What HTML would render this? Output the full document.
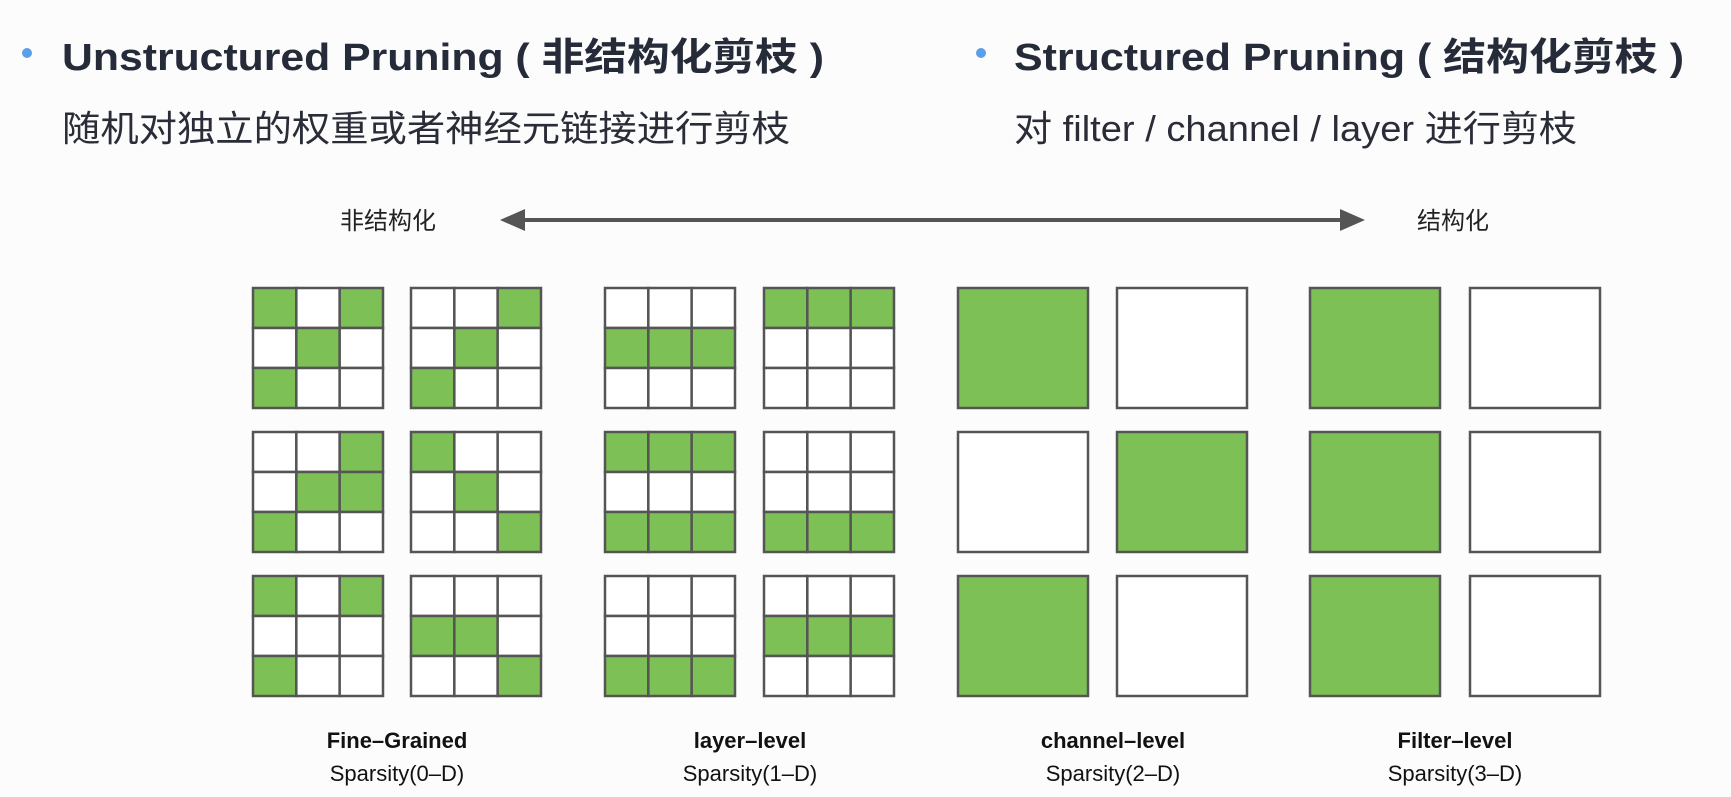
<!DOCTYPE html>
<html><head><meta charset="utf-8"><style>
body{margin:0;background:#fcfcfc;}
svg{display:block}
</style></head><body>
<svg id="s" width="1731" height="797" xmlns="http://www.w3.org/2000/svg">
<rect width="1731" height="797" fill="#fcfcfc"/>
<circle cx="27" cy="53" r="5" fill="#5aa0e8"/>
<text x="62" y="70" textLength="762" lengthAdjust="spacingAndGlyphs" font-family="Liberation Sans, Noto Sans CJK SC, sans-serif" font-weight="bold" font-size="38" fill="#262b3a">Unstructured Pruning ( 非结构化剪枝 )</text>
<text x="62" y="141" textLength="728" lengthAdjust="spacingAndGlyphs" font-family="Liberation Sans, Noto Sans CJK SC, sans-serif" font-size="36" fill="#2a2d38">随机对独立的权重或者神经元链接进行剪枝</text>
<circle cx="981" cy="53" r="5" fill="#5aa0e8"/>
<text x="1014" y="70" textLength="670" lengthAdjust="spacingAndGlyphs" font-family="Liberation Sans, Noto Sans CJK SC, sans-serif" font-weight="bold" font-size="38" fill="#262b3a">Structured Pruning ( 结构化剪枝 )</text>
<text x="1014" y="141" textLength="563" lengthAdjust="spacingAndGlyphs" font-family="Liberation Sans, Noto Sans CJK SC, sans-serif" font-size="36" fill="#2a2d38">对 filter / channel / layer 进行剪枝</text>
<text x="340" y="229" font-family="Liberation Sans, Noto Sans CJK SC, sans-serif" font-size="24" fill="#222">非结构化</text>
<text x="1417" y="229" font-family="Liberation Sans, Noto Sans CJK SC, sans-serif" font-size="24" fill="#222">结构化</text>
<line x1="515" y1="220" x2="1350" y2="220" stroke="#555" stroke-width="4"/>
<polygon points="500,220 525,209 525,231" fill="#555"/>
<polygon points="1365,220 1340,209 1340,231" fill="#555"/>
<g font-family="Liberation Sans, sans-serif" font-size="22" fill="#111" text-anchor="middle">
<text x="397" y="748" font-weight="bold">Fine–Grained</text><text x="397" y="781">Sparsity(0–D)</text>
<text x="750" y="748" font-weight="bold">layer–level</text><text x="750" y="781">Sparsity(1–D)</text>
<text x="1113" y="748" font-weight="bold">channel–level</text><text x="1113" y="781">Sparsity(2–D)</text>
<text x="1455" y="748" font-weight="bold">Filter–level</text><text x="1455" y="781">Sparsity(3–D)</text>
</g>
<g id="g"></g>
</svg>
<script>
var G="#7dc156",B="#555";
var xs=[253,411,605,764,958,1117,1310,1470],ys=[288,432,576],W=130,H=120;
var pats=[
["101010100","001010100","000111000","111000000","1","0","1","0"],
["001011100","100010001","111000111","000000111","0","1","1","0"],
["101000100","000110001","000000111","000111000","1","0","1","0"]];
var h="";
for(var r=0;r<3;r++)for(var c=0;c<8;c++){var p=pats[r][c],x=xs[c],y=ys[r];
if(p.length==1){h+='<rect x="'+x+'" y="'+y+'" width="'+W+'" height="'+H+'" fill="'+(p=="1"?G:"#fff")+'" stroke="'+B+'" stroke-width="2.5"/>';}
else{for(var i=0;i<9;i++){var cx=x+(i%3)*W/3,cy=y+Math.floor(i/3)*H/3;
h+='<rect x="'+cx+'" y="'+cy+'" width="'+W/3+'" height="'+H/3+'" fill="'+(p[i]=="1"?G:"#fff")+'" stroke="'+B+'" stroke-width="2.5"/>';}}}
document.getElementById("g").innerHTML=h;
</script>
</body></html>
